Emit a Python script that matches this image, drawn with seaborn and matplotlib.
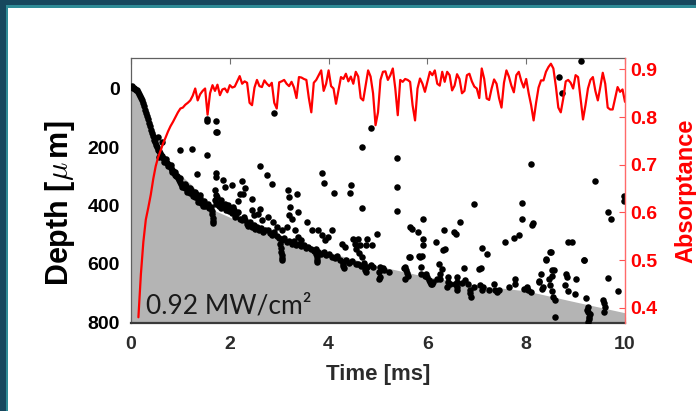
import numpy as np
import pandas as pd
import matplotlib
matplotlib.use("Agg")
import matplotlib.pyplot as plt
import seaborn as sns
from matplotlib.patches import Rectangle

# ---------------- data ----------------
# absorptance trace, sampled every 0.05 ms starting at 0.15 ms
abs_start = 0.15
abs_step = 0.05
absorptance = [
    0.380, 0.470, 0.538, 0.585, 0.610, 0.637, 0.670, 0.697, 0.716, 0.730,
    0.745, 0.757, 0.770, 0.781, 0.790, 0.800, 0.810, 0.818, 0.820, 0.826,
    0.830, 0.835, 0.845, 0.860, 0.835, 0.848, 0.855, 0.860, 0.805, 0.850,
    0.867, 0.855, 0.868, 0.846, 0.858, 0.860, 0.852, 0.867, 0.862, 0.864,
    0.875, 0.886, 0.870, 0.875, 0.872, 0.830, 0.825, 0.862, 0.878, 0.865,
    0.863, 0.877, 0.870, 0.865, 0.872, 0.830, 0.818, 0.873, 0.875, 0.878,
    0.870, 0.865, 0.874, 0.862, 0.840, 0.884, 0.883, 0.880, 0.878, 0.840,
    0.810, 0.872, 0.878, 0.888, 0.898, 0.855, 0.870, 0.898, 0.865, 0.860,
    0.828, 0.856, 0.884, 0.880, 0.891, 0.875, 0.885, 0.870, 0.895, 0.885,
    0.840, 0.835, 0.866, 0.898, 0.885, 0.850, 0.783, 0.810, 0.878, 0.895,
    0.896, 0.878, 0.888, 0.902, 0.860, 0.804, 0.878, 0.874, 0.880, 0.878,
    0.874, 0.825, 0.793, 0.860, 0.881, 0.870, 0.853, 0.874, 0.895, 0.888,
    0.898, 0.870, 0.866, 0.895, 0.874, 0.895, 0.888, 0.856, 0.866, 0.890,
    0.880, 0.850, 0.855, 0.888, 0.891, 0.875, 0.864, 0.860, 0.840, 0.902,
    0.880, 0.839, 0.836, 0.860, 0.879, 0.870, 0.840, 0.820, 0.872, 0.898,
    0.885, 0.866, 0.852, 0.888, 0.895, 0.876, 0.862, 0.880, 0.850, 0.825,
    0.793, 0.830, 0.862, 0.877, 0.877, 0.895, 0.905, 0.912, 0.902, 0.865,
    0.820, 0.810, 0.839, 0.875, 0.878, 0.872, 0.860, 0.888, 0.884, 0.840,
    0.795, 0.825, 0.860, 0.878, 0.884, 0.855, 0.835, 0.863, 0.893, 0.870,
    0.820, 0.816, 0.816, 0.840, 0.863, 0.853, 0.858, 0.832,
]
abs_time = np.round(abs_start + abs_step * np.arange(len(absorptance)), 3)

# grey region boundary (depth of keyhole envelope)
fill_time = [0, 0.1, 0.2, 0.3, 0.5, 0.75, 1.0, 1.25, 1.6, 2.0, 2.5, 3.0,
             3.6, 4.2, 5.0, 6.0, 7.0, 8.0, 9.0, 10.0]
fill_depth = [-15, 18, 48, 82, 185, 250, 295, 333, 410, 440, 480, 510,
              536, 570, 607, 644, 673, 692, 730, 767]

# measured depth points (time ms, depth um)
dots_onset = [
    (0.00, -5), (0.02, -8), (0.04, -4), (0.06, -2), (0.08, 0), (0.10, 3), (0.12, 6),
    (0.14, 12), (0.16, 18), (0.18, 24), (0.20, 32), (0.22, 40), (0.24, 50), (0.26, 60),
    (0.28, 72), (0.30, 82), (0.32, 94), (0.34, 104), (0.36, 116), (0.38, 128), (0.40, 140),
    (0.42, 152), (0.44, 163), (0.46, 174), (0.48, 184), (0.50, 193), (0.52, 201),
    (0.54, 209), (0.56, 215), (0.58, 221), (0.60, 227), (0.62, 232), (0.65, 236),
    (0.68, 245), (0.70, 250), (0.72, 255), (0.75, 258), (0.78, 266), (0.80, 270),
    (0.83, 278), (0.85, 281), (0.88, 290), (0.90, 295), (0.92, 300), (0.95, 306),
    (0.98, 312), (1.00, 318), (1.02, 325), (1.05, 328), (1.08, 335), (1.10, 340),
    (1.12, 332), (1.15, 345), (1.18, 350), (1.20, 356), (1.22, 346), (1.25, 360),
    (1.28, 365), (1.30, 372), (1.32, 360), (1.35, 378), (1.38, 385), (1.40, 375),
    (1.42, 392), (1.45, 395), (1.48, 385), (1.50, 400), (1.55, 395), (1.58, 410),
    (0.56, 235), (0.66, 250), (0.74, 265), (0.82, 285), (0.94, 300), (1.04, 335),
    (1.14, 352), (1.26, 368), (1.36, 388), (1.46, 402), (0.70, 240), (0.80, 262),
    (0.90, 285), (1.00, 305), (1.10, 325), (1.20, 340), (1.30, 352), (1.40, 365),
    (0.55, 166), (0.62, 182), (1.62, 405), (1.63, 418), (1.64, 430), (1.65, 442),
    (1.65, 452), (1.66, 460),
]
dots_band = [
    (1.70, 380), (1.72, 395), (1.75, 370), (1.78, 400), (1.80, 390), (1.83, 410),
    (1.86, 400), (1.90, 393), (1.92, 415), (1.95, 405), (1.98, 420), (2.02, 410),
    (2.05, 425), (2.08, 416), (2.10, 440), (2.13, 430), (2.17, 422), (2.20, 445),
    (2.24, 450), (2.28, 440), (2.31, 450), (2.34, 462), (2.37, 470), (2.40, 455),
    (2.44, 473), (2.48, 465), (2.52, 480), (2.56, 473), (2.60, 485), (2.64, 478),
    (2.68, 490), (2.72, 482), (2.78, 485), (2.82, 495), (2.86, 500), (2.90, 490),
    (2.95, 505), (3.00, 512), (3.05, 519), (3.10, 510), (3.15, 525), (3.20, 520),
    (3.25, 530), (3.30, 522), (3.35, 535), (3.40, 530), (3.45, 540), (3.50, 535),
    (3.55, 545), (3.59, 542), (3.64, 550), (3.70, 555), (3.75, 548), (3.79, 559),
    (3.84, 565), (3.90, 560), (3.95, 570), (4.00, 566), (4.06, 576), (4.12, 580),
    (4.18, 572), (4.24, 588), (4.30, 593), (4.36, 585), (4.42, 598), (4.48, 590),
    (4.55, 600), (4.60, 599), (4.66, 606), (4.72, 595), (4.78, 610), (4.85, 604),
    (4.90, 612),
    (3.02, 530), (3.03, 545), (3.04, 558), (3.05, 570), (3.05, 580), (3.06, 588),
    (3.75, 565), (3.76, 575), (3.77, 585), (3.77, 593), (4.29, 600), (4.30, 608),
    (4.31, 615), (4.73, 615), (4.74, 622), (4.75, 628),
]
dots_spread = [
    (1.73, 289), (1.73, 302), (1.87, 314), (1.90, 337), (2.04, 331), (2.25, 317),
    (2.31, 339), (2.27, 360), (2.44, 376), (2.61, 411), (2.78, 439), (2.88, 456),
    (3.17, 348), (3.19, 371), (3.22, 405), (3.37, 360), (3.39, 422), (3.19, 433),
    (3.25, 445), (1.70, 348), (1.73, 365), (1.83, 382), (1.97, 399), (2.07, 405),
    (2.20, 360), (2.17, 384), (2.44, 416), (2.48, 433), (2.58, 428), (2.65, 450),
    (2.95, 473), (3.05, 485), (3.15, 473), (3.32, 485), (3.39, 508), (3.45, 519),
    (3.56, 456), (3.66, 485), (3.79, 485), (3.86, 502), (3.93, 519), (3.99, 508),
    (4.06, 485), (4.27, 530), (4.34, 542), (4.50, 513), (4.60, 513), (4.77, 513),
    (4.54, 530), (4.64, 536), (4.75, 536), (4.87, 536), (4.55, 548), (4.62, 562),
    (4.68, 576),
]
dots_isolated = [
    (1.53, 103), (1.53, 109), (1.73, 109), (1.74, 149), (1.53, 228), (0.99, 211),
    (1.23, 208), (1.33, 291), (2.61, 266), (2.75, 297), (2.85, 325), (2.90, 83),
    (3.86, 288), (3.91, 322), (4.10, 356), (4.45, 331), (4.43, 356), (4.67, 200),
    (4.68, 407), (4.85, 135), (5.38, 238), (5.38, 337), (5.39, 417), (6.94, 396),
    (8.09, 257), (9.39, 317), (9.98, 366), (9.98, 386), (9.66, 422), (9.71, 447),
    (7.91, 391), (7.91, 447), (8.14, 460), (8.11, 468), (9.11, -94), (8.67, -40),
    (8.73, 15), (1.73, 148),
]
dots_late = [
    (4.97, 496), (5.65, 473), (5.68, 481), (5.80, 490), (5.92, 445), (5.92, 515),
    (5.92, 536), (5.89, 574), (5.82, 574), (6.17, 526), (6.34, 485), (6.53, 490),
    (6.58, 496), (6.66, 456), (6.32, 553), (6.35, 550), (6.23, 599), (6.29, 616),
    (7.10, 545), (7.20, 565), (6.75, 614), (7.05, 616), (7.08, 613), (7.58, 526),
    (7.75, 511), (7.85, 501), (8.41, 585), (8.50, 560), (8.57, 619), (8.29, 635),
    (8.25, 658), (8.47, 653), (8.48, 673), (8.52, 692), (8.55, 713), (8.58, 724),
    (8.58, 783), (8.85, 525), (8.93, 525), (8.80, 635), (8.82, 645), (8.78, 673),
    (8.84, 692), (9.01, 653), (8.98, 704), (9.18, 585), (9.21, 718), (9.26, 747),
    (9.26, 764), (9.27, 781), (9.26, 798), (9.24, 757), (9.29, 770), (9.27, 790),
    (9.56, 724), (9.59, 747), (9.58, 764), (9.57, 735), (9.65, 647), (9.85, 693),
    (5.05, 610), (5.03, 627), (5.05, 644), (5.03, 650), (5.22, 627), (5.55, 610),
    (5.58, 630), (5.55, 650), (5.57, 620), (5.62, 576), (5.65, 576), (5.85, 576),
    (5.88, 610), (5.88, 633), (5.97, 633), (6.00, 645), (6.05, 662), (6.09, 668),
    (6.03, 655), (6.25, 633), (6.26, 650), (6.42, 645), (6.42, 662), (6.39, 678),
    (6.59, 645), (6.59, 662), (6.59, 680), (6.60, 690), (6.76, 656), (6.83, 667),
    (6.86, 690), (6.86, 700), (6.88, 712), (7.07, 673), (7.10, 690), (7.13, 678),
    (7.34, 667), (7.37, 690), (7.40, 696), (7.77, 650), (7.77, 667), (8.01, 678),
    (8.03, 690), (8.25, 662), (8.31, 685), (5.10, 615), (5.12, 622), (5.52, 615),
    (5.60, 640), (5.95, 640), (6.07, 670), (6.12, 660), (6.20, 650), (6.45, 670),
    (6.55, 670), (6.70, 665), (6.95, 680), (7.25, 690), (7.45, 690), (7.65, 680),
    (7.95, 685), (8.10, 695), (8.35, 680), (8.53, 620), (8.53, 640), (8.40, 582),
    (8.49, 559), (9.16, 587),
]

x_ticks = [0, 2, 4, 6, 8, 10]
depth_ticks = [0, 200, 400, 600, 800]
abs_ticks = [0.4, 0.5, 0.6, 0.7, 0.8, 0.9]
annotation = "0.92 MW/cm²"

# ---------------- assemble frames ----------------
all_dots = dots_onset + dots_band + dots_spread + dots_isolated + dots_late
dots_df = pd.DataFrame(all_dots, columns=["time", "depth"])
abs_df = pd.DataFrame({"time": abs_time, "absorptance": absorptance})

# ---------------- style ----------------
sns.set_style("white")
plt.rcParams["font.family"] = ["Liberation Sans", "DejaVu Sans"]
plt.rcParams["mathtext.fontset"] = "cm"

fig = plt.figure(figsize=(6.96, 4.11), dpi=100)
fig.patch.set_facecolor("white")

# slide border (top and left)
fig.patches.append(Rectangle((0, 0), 8 / 696, 1, transform=fig.transFigure,
                             facecolor="#2f8b96", edgecolor="none", zorder=0))
fig.patches.append(Rectangle((0, 1 - 8 / 411), 1, 8 / 411, transform=fig.transFigure,
                             facecolor="#2f8b96", edgecolor="none", zorder=0))
fig.patches.append(Rectangle((0, 0), 5.5 / 696, 1, transform=fig.transFigure,
                             facecolor="#17475d", edgecolor="none", zorder=0))
fig.patches.append(Rectangle((0, 1 - 5.5 / 411), 1, 5.5 / 411, transform=fig.transFigure,
                             facecolor="#17475d", edgecolor="none", zorder=0))

ax = fig.add_axes([131 / 696, 1 - 323 / 411, 494 / 696, 265 / 411])
ax.set_facecolor("white")

ax.fill_between(fill_time, fill_depth, 830, color="#b4b4b4", lw=0, zorder=1)
sns.scatterplot(data=dots_df, x="time", y="depth", ax=ax, color="black",
                s=22, linewidth=0, zorder=3, legend=False)

ax.set_xlim(0, 10)
ax.set_ylim(802, -105)
ax.set_xticks(x_ticks)
ax.set_yticks(depth_ticks)
ax.set_xticklabels([str(v) for v in x_ticks])
ax.set_yticklabels([str(v) for v in depth_ticks])
for lab in ax.get_xticklabels():
    lab.set_fontweight("bold"); lab.set_fontsize(14); lab.set_color("#2b2b2b")
for lab in ax.get_yticklabels():
    lab.set_fontweight("bold"); lab.set_fontsize(14); lab.set_color("black")
ax.tick_params(axis="x", direction="in", length=4, width=0.8, color="#707070",
               top=True, bottom=True, pad=9)
ax.tick_params(axis="y", direction="in", length=4, width=0.8, color="#707070",
               left=True, right=False, pad=8)

ax.set_xlabel("Time [ms]", fontsize=16, fontweight="bold", color="#2b2b2b")
ax.xaxis.set_label_coords(0.5, -0.155)
ax.set_ylabel(r"Depth [$\mu\,$m]", fontsize=22, fontweight="bold", color="black")
ax.yaxis.set_label_coords(-0.11, 0.45)

for side in ["left", "top"]:
    ax.spines[side].set_color("#606060")
    ax.spines[side].set_linewidth(0.9)
ax.spines["bottom"].set_color("#3a3a3a")
ax.spines["bottom"].set_linewidth(1.6)
ax.spines["right"].set_visible(False)

ax.text(0.031, 0.035, annotation, transform=ax.transAxes, fontsize=19,
        family=["Lato", "DejaVu Sans"], color="#1a1a1a", ha="left", va="baseline",
        zorder=5)

# twin axis for absorptance
ax2 = ax.twinx()
sns.lineplot(data=abs_df, x="time", y="absorptance", ax=ax2, color="#ff0000",
             linewidth=1.6, errorbar=None, sort=False, legend=False)
ax2.set_xlim(0, 10)
ax2.set_ylim(0.368, 0.924)
ax2.set_yticks(abs_ticks)
ax2.set_yticklabels([f"{v:.1f}" for v in abs_ticks])
for lab in ax2.get_yticklabels():
    lab.set_fontweight("bold"); lab.set_fontsize(14); lab.set_color("#ff0000")
ax2.tick_params(axis="y", direction="in", length=4, width=0.8, color="#ff5050", pad=4)
ax2.set_ylabel("Absorptance", fontsize=17, fontweight="bold", color="#ff0000",
               rotation=90)
ax2.yaxis.set_label_coords(1.10, 0.5)
ax2.set_xlabel("")
for side in ["left", "top", "bottom"]:
    ax2.spines[side].set_visible(False)
ax2.spines["right"].set_color("#ff6a6a")
ax2.spines["right"].set_linewidth(1.0)

fig.savefig("out.png", dpi=100, facecolor="white")
